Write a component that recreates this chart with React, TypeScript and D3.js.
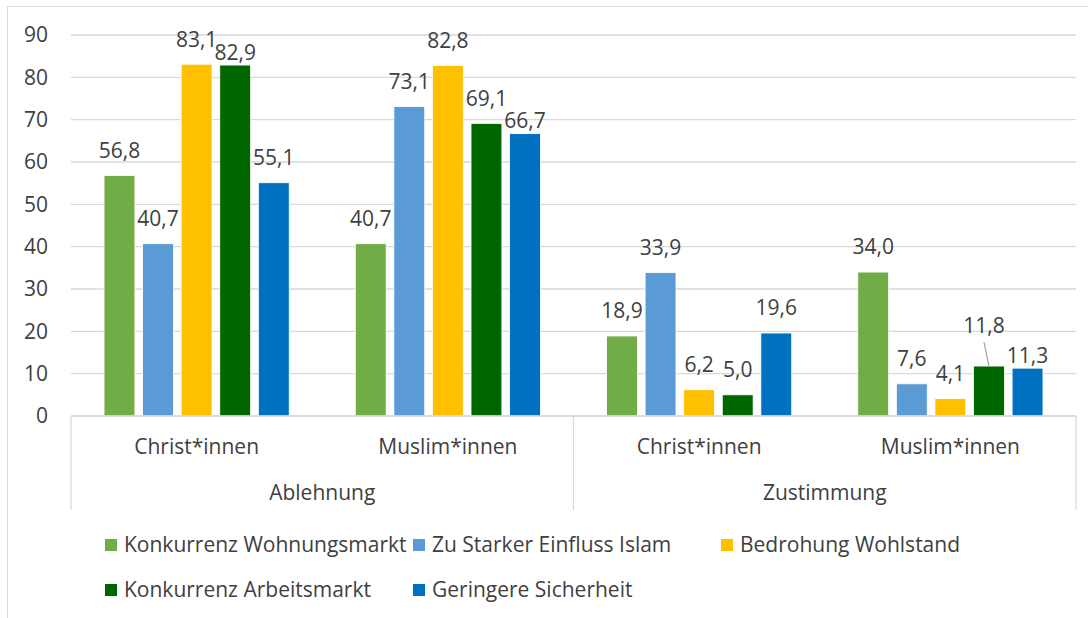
import React from 'react';
import * as d3 from 'd3';

// outer level / inner level categories
const outerGroups = ['Ablehnung', 'Zustimmung'];
const innerGroups = ['Christ*innen', 'Muslim*innen'];
const seriesNames = [
  'Konkurrenz Wohnungsmarkt',
  'Zu Starker Einfluss Islam',
  'Bedrohung Wohlstand',
  'Konkurrenz Arbeitsmarkt',
  'Geringere Sicherheit',
];
const seriesColors = ['#70AD47', '#5B9BD5', '#FFC000', '#006600', '#0070C0'];

// values per series, in order: Ablehnung/Christ, Ablehnung/Muslim, Zustimmung/Christ, Zustimmung/Muslim
const wohnungsmarkt = [56.8, 40.7, 18.9, 34.0];
const einflussIslam = [40.7, 73.1, 33.9, 7.6];
const wohlstand = [83.1, 82.8, 6.2, 4.1];
const arbeitsmarkt = [82.9, 69.1, 5.0, 11.8];
const sicherheit = [55.1, 66.7, 19.6, 11.3];
const seriesValues = [wohnungsmarkt, einflussIslam, wohlstand, arbeitsmarkt, sicherheit];

const yTicks = [0, 10, 20, 30, 40, 50, 60, 70, 80, 90];

// labels that were moved by hand in the original (group index, series index)
const labelMoves: Record<string, { dx: number; dy: number; leader?: boolean }> = {
  '0-3': { dx: 0, dy: 13 },
  '1-4': { dx: 0, dy: 12 },
  '3-3': { dx: -5, dy: -15, leader: true },
  '3-4': { dx: 0, dy: 12 },
};

const W = 1088;
const H = 618;
const FONT = '"Open Sans", sans-serif';
const TXT = '#404040';
const FS = 21;

const App = () => {
  const plotLeft = 71;
  const plotRight = 1076;
  const y = d3.scaleLinear().domain([0, 90]).range([416, 35]);

  const groups = outerGroups.flatMap(o => innerGroups.map(i => `${o}|${i}`));
  const x0 = d3.scaleBand().domain(groups).range([plotLeft, plotRight])
    .paddingInner(0.263).paddingOuter(0.1315);
  const x1 = d3.scaleBand().domain(seriesNames).range([0, x0.bandwidth()]).paddingInner(0.2);
  const xOuter = d3.scaleBand().domain(outerGroups).range([plotLeft, plotRight]);

  const fmt = (v: number) => v.toFixed(1).replace('.', ',');
  const baseOffset = 25;

  return (
    <svg width={W} height={H} style={{ position: 'absolute', left: 0, top: 0 }} fontFamily={FONT}>
      <rect x={0} y={0} width={W} height={H} fill="#fff" />
      <rect x={7.5} y={6.5} width={W + 10} height={H + 10} fill="none" stroke="#d9d9d9" strokeWidth={1} />

      {/* gridlines and y ticks */}
      {yTicks.map(t => (
        <g key={t}>
          <line x1={plotLeft} x2={plotRight} y1={y(t)} y2={y(t)} stroke="#d9d9d9" strokeWidth={1.3} />
          <text x={48} y={y(t)} dy="0.35em" textAnchor="end" fontSize={FS} fill={TXT}>{t}</text>
        </g>
      ))}

      {/* bars */}
      {groups.map((g, gi) => (
        <g key={g} transform={`translate(${x0(g)},0)`}>
          {seriesNames.map((s, si) => {
            const v = seriesValues[si][gi];
            return (
              <rect key={s} x={x1(s)} y={y(v)} width={x1.bandwidth()} height={y(0) - y(v)}
                fill={seriesColors[si]} stroke="#fff" strokeWidth={0.8} />
            );
          })}
        </g>
      ))}

      {/* data labels */}
      {groups.map((g, gi) => seriesNames.map((s, si) => {
        const v = seriesValues[si][gi];
        const cx = (x0(g) ?? 0) + (x1(s) ?? 0) + x1.bandwidth() / 2;
        const mv = labelMoves[`${gi}-${si}`] ?? { dx: 0, dy: 0 };
        const ly = y(v) - baseOffset + mv.dy;
        return (
          <g key={`${g}-${s}`}>
            {mv.leader && (
              <line x1={cx + mv.dx} y1={ly + 16} x2={cx} y2={y(v)} stroke="#a6a6a6" strokeWidth={1.2} />
            )}
            <text x={cx + mv.dx} y={ly} dy="0.35em" textAnchor="middle" fontSize={FS} fill={TXT}>{fmt(v)}</text>
          </g>
        );
      }))}

      {/* category axis */}
      <line x1={plotLeft} x2={plotRight} y1={y(0)} y2={y(0)} stroke="#d9d9d9" strokeWidth={1.3} />
      {[plotLeft, (plotLeft + plotRight) / 2, plotRight].map((lx, i) => (
        <line key={i} x1={lx} x2={lx} y1={y(0)} y2={510} stroke="#d9d9d9" strokeWidth={1.3} />
      ))}
      {groups.map(g => (
        <text key={g} x={(x0(g) ?? 0) + x0.bandwidth() / 2} y={447} dy="0.35em" textAnchor="middle"
          fontSize={FS} fill={TXT}>{g.split('|')[1]}</text>
      ))}
      {outerGroups.map(o => (
        <text key={o} x={(xOuter(o) ?? 0) + xOuter.bandwidth() / 2} y={493} dy="0.35em" textAnchor="middle"
          fontSize={FS} fill={TXT}>{o}</text>
      ))}

      {/* legend */}
      {seriesNames.map((s, i) => {
        const lx = 105 + (i % 3) * 308;
        const ly = 545 + Math.floor(i / 3) * 45;
        return (
          <g key={s}>
            <rect x={lx} y={ly - 6} width={12} height={12} fill={seriesColors[i]} />
            <text x={lx + 19} y={ly} dy="0.35em" fontSize={FS} fill={TXT}>{s}</text>
          </g>
        );
      })}
    </svg>
  );
};

export default App;
